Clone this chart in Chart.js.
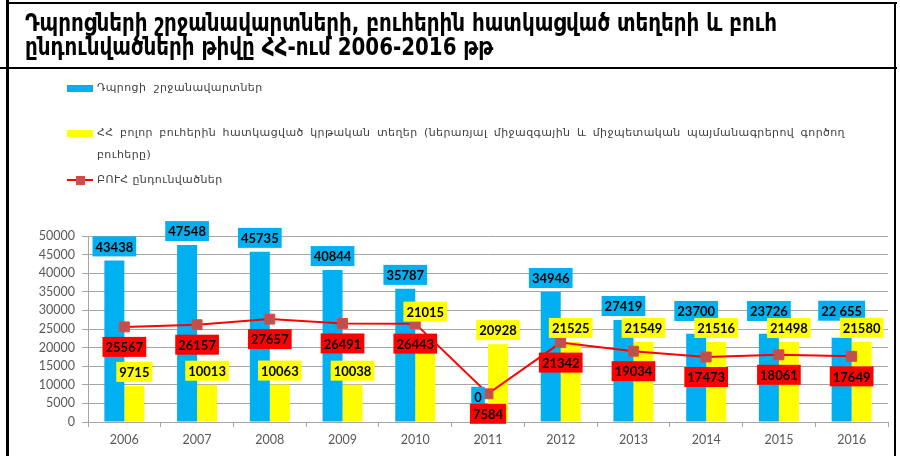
<!DOCTYPE html>
<html>
<head>
<meta charset="utf-8">
<script src="https://cdn.jsdelivr.net/npm/chart.js@4.4.0/dist/chart.umd.min.js"></script>
<style>
html,body{margin:0;padding:0;background:#fff;}
#wrap{position:relative;width:900px;height:456px;overflow:hidden;background:#fff;}
#chart{position:absolute;left:0;top:0;}
.frame{position:absolute;background:#000;}
#title{position:absolute;left:25px;top:11px;font-family:"DejaVu Sans Condensed","DejaVu Sans",sans-serif;font-weight:bold;font-size:24px;line-height:24px;color:#000;white-space:nowrap;}
#title span{display:block;transform-origin:0 0;width:max-content;}
.lg{position:absolute;left:97px;font-family:"DejaVu Sans",sans-serif;font-size:11px;letter-spacing:0.4px;line-height:22px;color:#404040;}
.sw{position:absolute;left:67px;width:26px;height:7px;}
</style>
</head>
<body>
<div id="wrap">
  <canvas id="chart" width="900" height="456"></canvas>
  <div class="frame" style="left:6px;top:0;width:3px;height:456px;"></div>
  <div class="frame" style="left:6px;top:2px;width:891px;height:2px;"></div>
  <div class="frame" style="left:0;top:67px;width:897px;height:2px;"></div>
  <div class="frame" style="left:894px;top:2px;width:2px;height:454px;"></div>
  <div id="title"></div>
  <div id="legend"></div>
</div>
<script>
const titleLines = [
  'Դպրոցների շրջանավարտների, բուհերին հատկացված տեղերի և բուհ',
  'ընդունվածների թիվը ՀՀ-ում 2006-2016 թթ'
];
const categories = ['2006','2007','2008','2009','2010','2011','2012','2013','2014','2015','2016'];
const graduates = [43438,47548,45735,40844,35787,0,34946,27419,23700,23726,22655];
const graduatesText = ['43438','47548','45735','40844','35787','0','34946','27419','23700','23726','22 655'];
const places = [9715,10013,10063,10038,21015,20928,21525,21549,21516,21498,21580];
const admitted = [25567,26157,27657,26491,26443,7584,21342,19034,17473,18061,17649];
const seriesNames = [
  'Դպրոցի  շրջանավարտներ',
  'ՀՀ բոլոր բուհերին հատկացված կրթական տեղեր (ներառյալ միջազգային և միջպետական պայմանագրերով գործող բուհերը)',
  'ԲՈՒՀ ընդունվածներ'
];
const yMin = 0, yMax = 50000, yStep = 5000;

const BLUE = '#00b0f0', YELLOW = '#ffff00', RED = '#ff0000', MARK = '#c0504d';
const GRID = '#a6a6a6', TICK = '#595959';

// Title (first line fitted to the reference width)
const t = document.getElementById('title');
const spans = titleLines.map(s => { const sp = document.createElement('span'); sp.textContent = s; t.appendChild(sp); return sp; });
const w0 = spans[0].getBoundingClientRect().width;
const sx = 752 / w0;
spans.forEach(sp => sp.style.transform = `scaleX(${sx})`);

const labelPlugin = {
  id: 'boxLabels',
  afterDatasetsDraw(chart) {
    const ctx = chart.ctx;
    ctx.save();
    ctx.font = 'bold 13px Lato, "DejaVu Sans", sans-serif';
    ctx.textAlign = 'center';
    ctx.textBaseline = 'middle';
    const h = 20, pad = 3;
    const mB = chart.getDatasetMeta(0), mY = chart.getDatasetMeta(1), mL = chart.getDatasetMeta(2);
    const mk = (text, cx, top, color) => {
      const w = ctx.measureText(text).width + 2 * pad;
      return {x: cx - w / 2, y: top, w, h, text, color};
    };
    const ov = (a, b) => a.x < b.x + b.w && b.x < a.x + a.w && a.y < b.y + b.h && b.y < a.y + a.h;
    const red = mL.data.map((p, i) => mk(String(admitted[i]), p.x, p.y + 10, RED));
    const yel = mY.data.map((bar, i) => {
      const b = mk(String(places[i]), bar.x, bar.y - 4 - h, YELLOW);
      const p = mL.data[i];
      const pb = {x: p.x - 6, y: p.y - 6, w: 12, h: 12};
      if (ov(b, pb)) b.y = Math.min(b.y, p.y - 2 - h);
      return b;
    });
    const blu = mB.data.map((bar, i) => {
      const b = mk(graduatesText[i], bar.x, bar.y - 4 - h, BLUE);
      for (const o of yel.concat(red)) if (ov(b, o) && b.y > o.y + 3 - h) b.y = o.y + 3 - h;
      return b;
    });
    for (const b of blu.concat(yel, red)) {
      ctx.fillStyle = b.color;
      ctx.fillRect(b.x, b.y, b.w, b.h);
      ctx.fillStyle = '#000';
      ctx.fillText(b.text, b.x + b.w / 2, b.y + b.h / 2 + 1);
    }
    ctx.restore();
  }
};

const chart = new Chart(document.getElementById('chart'), {
  type: 'bar',
  data: {
    labels: categories,
    datasets: [
      {label: seriesNames[0], data: graduates, backgroundColor: BLUE, order: 2, categoryPercentage: 0.55, barPercentage: 1},
      {label: seriesNames[1], data: places, backgroundColor: YELLOW, order: 2, categoryPercentage: 0.55, barPercentage: 1},
      {label: seriesNames[2], data: admitted, type: 'line', order: 0, borderColor: RED, borderWidth: 2,
       pointStyle: 'rect', pointRadius: 7, pointBackgroundColor: MARK, pointBorderColor: '#e8453c', pointBorderWidth: 1,
       tension: 0, fill: false}
    ]
  },
  options: {
    responsive: false,
    animation: false,
    events: [],
    layout: {padding: {top: 236, right: 12, left: 0, bottom: 0}},
    plugins: {legend: {display: false}, title: {display: false}, tooltip: {enabled: false}},
    scales: {
      x: {
        grid: {display: true, drawOnChartArea: false, tickLength: 5, color: GRID, offset: true},
        border: {color: GRID},
        ticks: {color: TICK, font: {family: 'Lato', size: 12.5}, padding: 5},
        afterFit(s) { s.height = 34; }
      },
      y: {
        min: yMin, max: yMax,
        grid: {color: GRID, tickLength: 6},
        border: {color: GRID},
        ticks: {stepSize: yStep, color: TICK, font: {family: 'Lato', size: 12.5}, padding: 7,
                callback: v => String(v)},
        afterFit(s) { s.width = 88; }
      }
    }
  },
  plugins: [labelPlugin]
});

// HTML legend built from the chart datasets
const lg = document.getElementById('legend');
const centers = [88, 133, 180];
chart.data.datasets.forEach((ds, i) => {
  const c = centers[i];
  if (ds.type === 'line') {
    const ln = document.createElement('div');
    ln.className = 'sw';
    ln.style.cssText = `top:${c - 1}px;height:2px;background:${ds.borderColor};`;
    lg.appendChild(ln);
    const sq = document.createElement('div');
    sq.style.cssText = `position:absolute;left:76px;top:${c - 4}px;width:7px;height:7px;background:${ds.pointBackgroundColor};border:1px solid ${ds.pointBorderColor};`;
    lg.appendChild(sq);
  } else {
    const sw = document.createElement('div');
    sw.className = 'sw';
    sw.style.cssText = `top:${c - 3.5}px;background:${ds.backgroundColor};`;
    lg.appendChild(sw);
  }
  const tx = document.createElement('div');
  tx.className = 'lg';
  tx.style.top = (c - 11) + 'px';
  if (i === 1) { tx.style.width = '748px'; tx.style.textAlign = 'justify'; }
  else tx.style.whiteSpace = 'pre';
  tx.textContent = ds.label;
  lg.appendChild(tx);
});
</script>
</body>
</html>
